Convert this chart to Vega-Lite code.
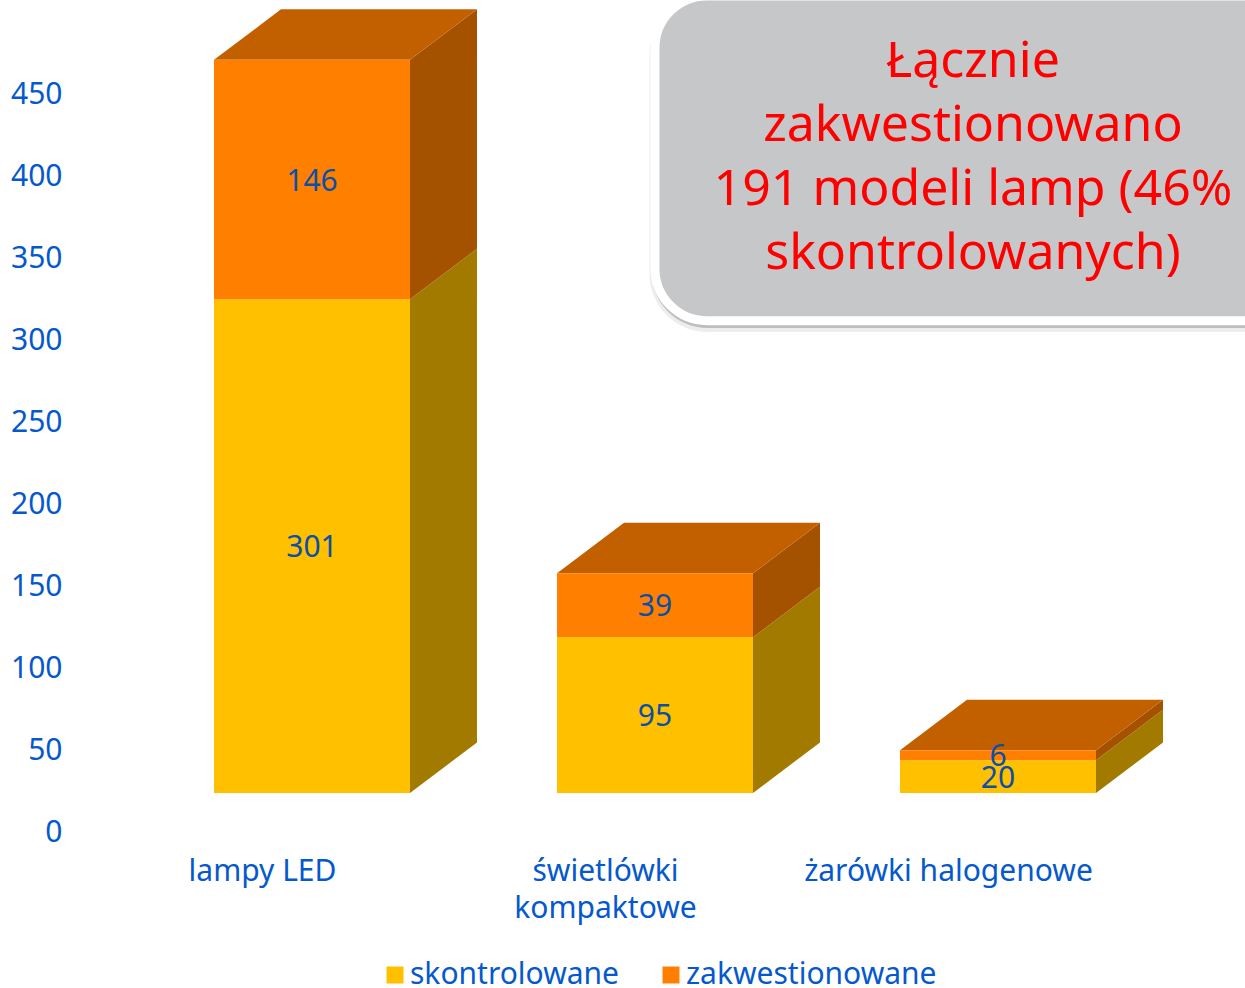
{
"$schema":"https://vega.github.io/schema/vega-lite/v6.json",
"width":1245,"height":988,"padding":0,"autosize":{"type":"none"},"background":"white",
"config":{"view":{"stroke":null},"font":"Noto Sans"},
"datasets":{"bars":[
{"category":"lampy LED","position":0,"series":"skontrolowane","order":1,"value":301},
{"category":"lampy LED","position":0,"series":"zakwestionowane","order":2,"value":146},
{"category":"świetlówki kompaktowe","position":1,"series":"skontrolowane","order":1,"value":95},
{"category":"świetlówki kompaktowe","position":1,"series":"zakwestionowane","order":2,"value":39},
{"category":"żarówki halogenowe","position":2,"series":"skontrolowane","order":1,"value":20},
{"category":"żarówki halogenowe","position":2,"series":"zakwestionowane","order":2,"value":6}
],"note":[{"note":"Łącznie zakwestionowano 191 modeli lamp (46% skontrolowanych)"}]},
"data":{"name":"bars"},
"transform":[
{"stack":"value","groupby":["category"],"sort":[{"field":"order","order":"ascending"}],"as":["low","high"]},
{"calculate":"datum.position-0.2857","as":"left"},
{"calculate":"datum.position+0.2857","as":"right"},
{"calculate":"datum.category+datum.series","as":"key"},
{"calculate":"(datum.low+datum.high)/2","as":"mid"}
],
"layer":[
{"transform":[{"calculate":"[0,1]","as":"t"},{"flatten":["t"]},
{"calculate":"datum.right+datum.t*0.1953","as":"sx"},
{"calculate":"datum.low+datum.t*30.8","as":"sy"},
{"calculate":"datum.high+datum.t*30.8","as":"sy2"}],
"mark":{"type":"area","orient":"vertical","interpolate":"linear","clip":false},
"encoding":{
"x":{"field":"sx","type":"quantitative","scale":{"domain":[-0.90962,2.72012],"nice":false,"zero":false},
"axis":{"orient":"bottom","offset":-132,"values":[0,1,2],"title":null,"domain":false,"ticks":false,"grid":false,"labelPadding":0,"labelOffset":-50,"labelFontSize":30,"labelColor":"#0559CC","labelFont":"Noto Sans","labelLineHeight":37,"labelBaseline":"top","labelOverlap":false,"labelBound":false,"labelFlush":false,"labelLimit":0,"labelExpr":"datum.value==0?'lampy LED':datum.value==1?['świetlówki','kompaktowe']:'żarówki halogenowe'"}},
"y":{"field":"sy","type":"quantitative","stack":null,"scale":{"domain":[-118.9,483.5],"nice":false,"zero":false},
"axis":{"orient":"left","offset":-62,"values":[0,50,100,150,200,250,300,350,400,450],"title":null,"domain":false,"ticks":false,"grid":false,"labelPadding":0,"labelOffset":40,"labelFontSize":30,"labelColor":"#0559CC","labelFont":"Noto Sans","labelOverlap":false,"labelBound":false,"labelFlush":false}},
"y2":{"field":"sy2"},
"detail":{"field":"key"},
"fill":{"condition":{"test":"datum.series=='skontrolowane'","value":"#A27A00"},"value":"#A55200"}
}},
{"transform":[{"filter":"datum.order==2"},{"calculate":"[0,1,2,3]","as":"t"},{"flatten":["t"]},
{"calculate":"datum.left+(datum.t==0?0:datum.t==1?0.1953:datum.t==2?0.5714:0.7667)","as":"sx"},
{"calculate":"datum.high+(datum.t==0?0:30.8)","as":"sy"},
{"calculate":"datum.high+(datum.t==3?30.8:0)","as":"sy2"}],
"mark":{"type":"area","orient":"vertical","interpolate":"linear","color":"#C26000"},
"encoding":{
"x":{"field":"sx","type":"quantitative"},
"y":{"field":"sy","type":"quantitative","stack":null},
"y2":{"field":"sy2"},
"detail":{"field":"key"}
}},
{"mark":{"type":"rect"},
"encoding":{
"x":{"field":"left","type":"quantitative"},
"x2":{"field":"right"},
"y":{"field":"low","type":"quantitative"},
"y2":{"field":"high"},
"color":{"field":"series","type":"nominal","scale":{"domain":["skontrolowane","zakwestionowane"],"range":["#FFC000","#FF8000"]},
"legend":{"orient":"none","legendX":380,"legendY":960,"direction":"horizontal","title":null,"symbolType":"square","symbolSize":289,"symbolStrokeWidth":0,"symbolOpacity":1,"labelFontSize":30,"labelColor":"#0559CC","labelFont":"Noto Sans","labelLimit":400,"columnPadding":36,"labelOffset":0}}
}},
{"mark":{"type":"text","fontSize":30,"color":"#0B4FA8","align":"center","baseline":"middle","dy":2},
"encoding":{
"x":{"field":"position","type":"quantitative"},
"y":{"field":"mid","type":"quantitative"},
"text":{"field":"value","type":"quantitative"}
}},
{"data":{"name":"note"},"transform":[],
"mark":{"type":"rect","cornerRadius":58,"fill":"#999999","opacity":0.18},
"encoding":{"x":{"datum":0.984},"x2":{"datum":2.95},"y":{"datum":281},"y2":{"datum":486}}},
{"data":{"name":"note"},"transform":[],
"mark":{"type":"rect","cornerRadius":56,"fill":"#777777","opacity":0.4},
"encoding":{"x":{"datum":0.99},"x2":{"datum":2.95},"y":{"datum":283.5},"y2":{"datum":486}}},
{"data":{"name":"note"},"transform":[],
"mark":{"type":"rect","cornerRadius":52,"fill":"#C6C7C9","stroke":"white","strokeWidth":9},
"encoding":{"x":{"datum":1.0},"x2":{"datum":2.95},"y":{"datum":288},"y2":{"datum":486}}},
{"data":{"name":"note"},"transform":[],
"mark":{"type":"text","fontSize":50,"color":"#FF0000","align":"center","baseline":"middle","lineHeight":64,"text":["Łącznie","zakwestionowano","191 modeli lamp (46%","skontrolowanych)"]},
"encoding":{"x":{"datum":1.927},"y":{"datum":445.8}}}
]
}
